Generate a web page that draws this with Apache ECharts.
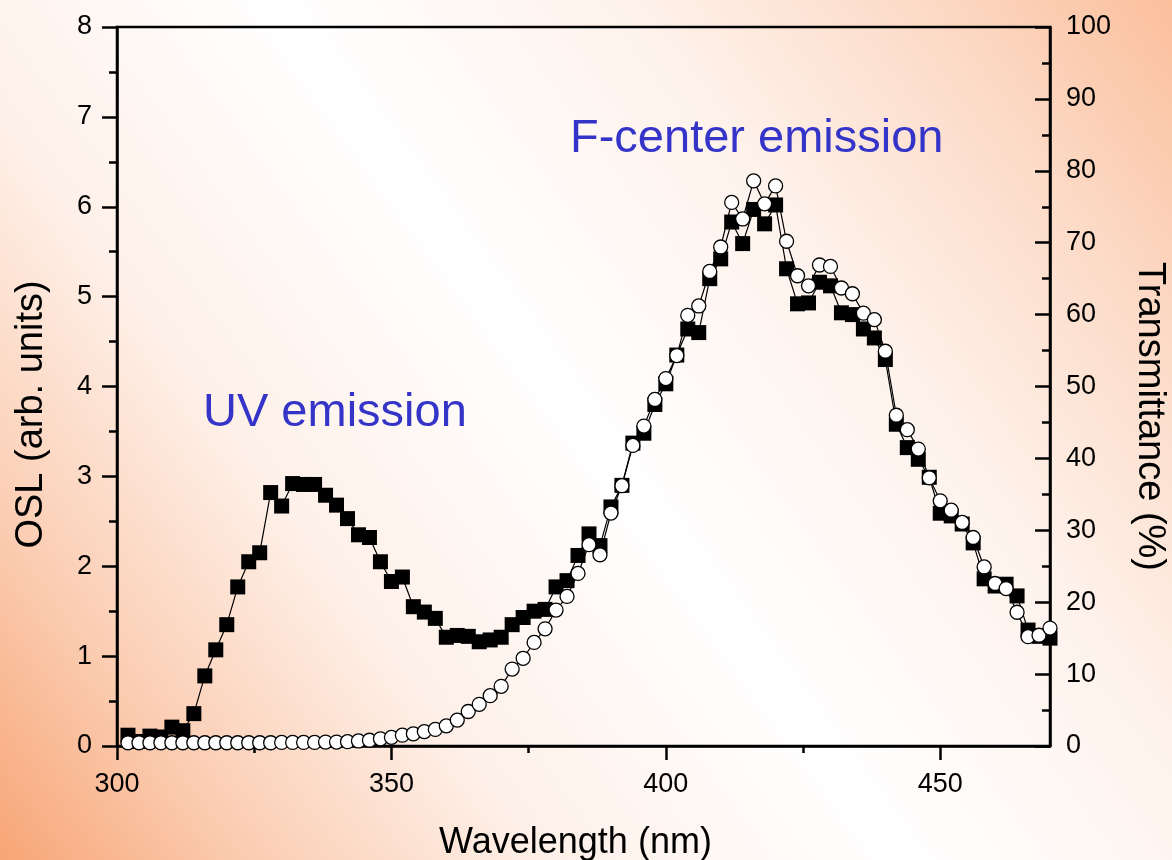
<!DOCTYPE html>
<html>
<head>
<meta charset="utf-8">
<title>OSL emission and transmittance</title>
<script src="https://cdn.jsdelivr.net/npm/echarts@6/dist/echarts.min.js"></script>
<style>
  html, body { margin: 0; padding: 0; width: 1172px; height: 860px; overflow: hidden; background: #fff; }
  #chart { width: 1172px; height: 860px; }
</style>
</head>
<body>
<div id="chart"></div>
<script>
// Wavelength grid (nm)
const wavelength = [
  302, 304, 306, 308, 310, 312, 314, 316, 318, 320,
  322, 324, 326, 328, 330, 332, 334, 336, 338, 340,
  342, 344, 346, 348, 350, 352, 354, 356, 358, 360,
  362, 364, 366, 368, 370, 372, 374, 376, 378, 380,
  382, 384, 386, 388, 390, 392, 394, 396, 398, 400,
  402, 404, 406, 408, 410, 412, 414, 416, 418, 420,
  422, 424, 426, 428, 430, 432, 434, 436, 438, 440,
  442, 444, 446, 448, 450, 452, 454, 456, 458, 460,
  462, 464, 466, 468, 470
];

// OSL intensity (arb. units) — filled squares
const osl = [
  0.12, 0.05, 0.11, 0.10, 0.21, 0.17, 0.36, 0.78, 1.07, 1.35,
  1.77, 2.05, 2.15, 2.82, 2.67, 2.92, 2.91, 2.91, 2.79, 2.68,
  2.53, 2.35, 2.32, 2.05, 1.83, 1.88, 1.55, 1.49, 1.42, 1.21,
  1.23, 1.22, 1.16, 1.18, 1.21, 1.35, 1.43, 1.50, 1.52, 1.77,
  1.84, 2.12, 2.36, 2.23, 2.66, 2.90, 3.37, 3.48, 3.80, 4.03,
  4.35, 4.64, 4.60, 5.20, 5.42, 5.83, 5.59, 5.97, 5.81, 6.02,
  5.31, 4.92, 4.93, 5.16, 5.12, 4.82, 4.80, 4.64, 4.54, 4.30,
  3.58, 3.32, 3.19, 2.99, 2.59, 2.56, 2.47, 2.26, 1.86, 1.78,
  1.80, 1.67, 1.29, 1.22, 1.20
];

// Transmittance (%) — open circles
const transmittance = [
  0.45, 0.45, 0.45, 0.45, 0.45, 0.45, 0.45, 0.45, 0.45, 0.45,
  0.45, 0.45, 0.45, 0.45, 0.50, 0.50, 0.50, 0.50, 0.55, 0.55,
  0.60, 0.70, 0.80, 1.0, 1.2, 1.5, 1.7, 2.0, 2.3, 2.8,
  3.6, 4.8, 5.8, 7.0, 8.3, 10.7, 12.2, 14.4, 16.3, 18.9,
  20.8, 24.0, 28.0, 26.6, 32.4, 36.2, 41.8, 44.5, 48.2, 51.1,
  54.3, 59.9, 61.2, 66.0, 69.4, 75.6, 73.3, 78.6, 75.4, 77.9,
  70.2, 65.4, 64.0, 66.9, 66.7, 63.7, 62.9, 60.2, 59.3, 54.9,
  46.0, 44.0, 41.3, 37.3, 34.1, 32.8, 31.1, 29.0, 24.9, 22.6,
  21.9, 18.6, 15.2, 15.4, 16.4
];

// Axis ticks
const xMajorTicks = [300, 350, 400, 450];
const xMinorTicks = [325, 375, 425];

const FONT = '"Liberation Sans", Arial, Helvetica, sans-serif';
const INK = '#000000';
const LABEL_BLUE = '#3434c8';

const gridRect = { left: 117, top: 27, right: 122, bottom: 114 };

const chart = echarts.init(document.getElementById('chart'), null, { renderer: 'canvas' });

const option = {
  animation: false,
  backgroundColor: new echarts.graphic.LinearGradient(0, 1, 1, 0, [
    { offset: 0, color: '#f7a576' },
    { offset: 0.14, color: '#fbcdb2' },
    { offset: 0.3, color: '#fef0e8' },
    { offset: 0.5, color: '#ffffff' },
    { offset: 0.7, color: '#fef2eb' },
    { offset: 0.86, color: '#fcdac6' },
    { offset: 1, color: '#fbbf9c' }
  ]),
  textStyle: { fontFamily: FONT },
  grid: [
    Object.assign({
      show: true, borderColor: INK, borderWidth: 2.5, backgroundColor: 'transparent',
      containLabel: false, outerBoundsMode: 'none'
    }, gridRect),
    Object.assign({ show: false, containLabel: false, outerBoundsMode: 'none' }, gridRect)
  ],
  xAxis: [
    {
      type: 'value', gridIndex: 0, min: 300, max: 470, position: 'bottom',
      axisLine: { show: true, lineStyle: { color: INK, width: 2.5 } },
      axisTick: { show: true, length: 14, customValues: xMajorTicks, lineStyle: { color: INK, width: 2.5 } },
      axisLabel: { customValues: xMajorTicks, fontSize: 27, color: INK, margin: 25, fontFamily: FONT },
      splitLine: { show: false },
      name: 'Wavelength (nm)', nameLocation: 'middle', nameGap: 79,
      nameTextStyle: { fontSize: 36, color: INK, fontFamily: FONT, padding: [0, 16, 0, 0] }
    },
    {
      // minor ticks between the labelled wavelengths
      type: 'value', gridIndex: 1, min: 300, max: 470, position: 'bottom',
      axisLine: { show: false },
      axisTick: { show: true, length: 7, customValues: xMinorTicks, lineStyle: { color: INK, width: 2.5 } },
      axisLabel: { show: false },
      splitLine: { show: false }
    }
  ],
  yAxis: [
    {
      type: 'value', gridIndex: 0, min: 0, max: 8, interval: 1, position: 'left',
      axisLine: { show: true, lineStyle: { color: INK, width: 2.5 } },
      axisTick: { show: true, length: 15, lineStyle: { color: INK, width: 2.5 } },
      minorTick: { show: true, splitNumber: 2, length: 8, lineStyle: { color: INK, width: 2.5 } },
      axisLabel: { fontSize: 27, color: INK, margin: 25, fontFamily: FONT },
      splitLine: { show: false },
      name: 'OSL (arb. units)', nameLocation: 'middle', nameGap: 66,
      nameTextStyle: { fontSize: 38, color: INK, fontFamily: FONT, padding: [0, 56, 0, 0] }
    },
    {
      type: 'value', gridIndex: 0, min: 0, max: 100, interval: 10, position: 'right',
      axisLine: { show: true, lineStyle: { color: INK, width: 2.5 } },
      axisTick: { show: true, inside: true, length: 15, lineStyle: { color: INK, width: 2.5 } },
      minorTick: { show: true, splitNumber: 2, length: 8, lineStyle: { color: INK, width: 2.5 } },
      axisLabel: { fontSize: 27, color: INK, margin: 16, fontFamily: FONT },
      splitLine: { show: false },
      name: 'Transmittance (%)', nameLocation: 'middle', nameGap: 80, nameRotate: -90,
      nameTextStyle: { fontSize: 38, color: INK, fontFamily: FONT, padding: [0, 0, 0, 60] }
    },
    {
      type: 'value', gridIndex: 1, min: 0, max: 8, show: false
    }
  ],
  graphic: [
    {
      type: 'text', left: 203, top: 390, silent: true,
      style: { text: 'UV emission', fill: LABEL_BLUE, font: '47px ' + FONT }
    },
    {
      type: 'text', left: 570, top: 116, silent: true,
      style: { text: 'F-center emission', fill: LABEL_BLUE, font: '47px ' + FONT }
    }
  ],
  series: [
    {
      name: 'OSL', type: 'line', xAxisIndex: 0, yAxisIndex: 0,
      data: wavelength.map((w, i) => [w, osl[i]]),
      symbol: 'rect', symbolSize: 15, showAllSymbol: true,
      itemStyle: { color: INK },
      lineStyle: { color: INK, width: 1.2 },
      z: 2
    },
    {
      name: 'Transmittance', type: 'line', xAxisIndex: 0, yAxisIndex: 1,
      data: wavelength.map((w, i) => [w, transmittance[i]]),
      symbol: 'circle', symbolSize: 14, showAllSymbol: true,
      itemStyle: { color: '#ffffff', borderColor: INK, borderWidth: 1.3 },
      lineStyle: { color: INK, width: 1.2 },
      z: 3
    }
  ]
};

chart.setOption(option);
</script>
</body>
</html>
